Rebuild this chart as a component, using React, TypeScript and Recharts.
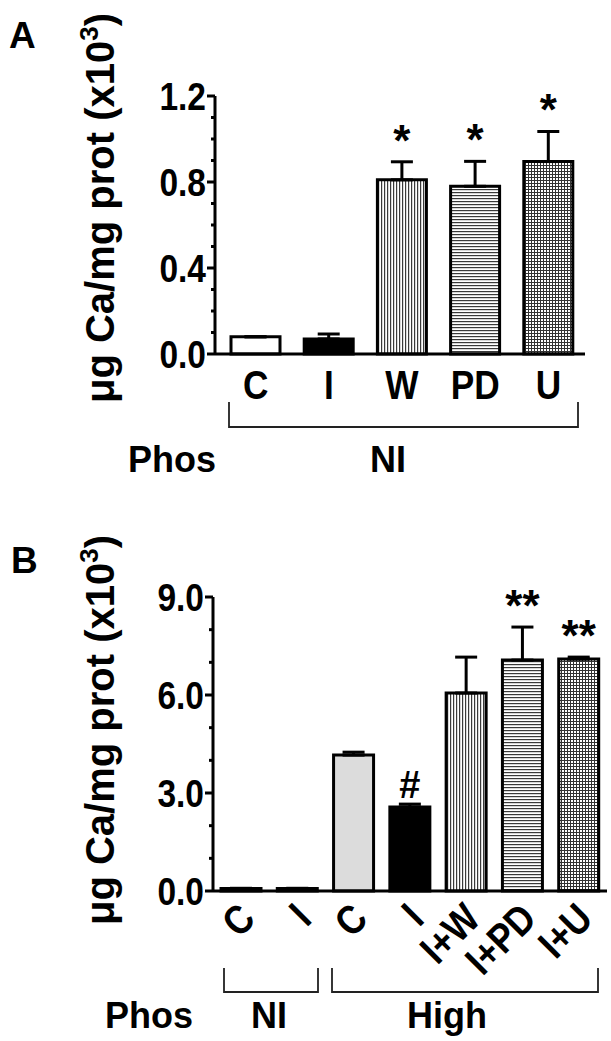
import React from 'react';
import { BarChart, Bar, XAxis, YAxis, Cell, ErrorBar, LabelList } from 'recharts';

// Panel A: normal phosphate
const catsA = ['C', 'I', 'W', 'PD', 'U'];
const valsA = [0.08, 0.07, 0.81, 0.78, 0.895];
const errsA = [0, 0.023, 0.084, 0.116, 0.14];
const marksA = ['', '', '*', '*', '*'];
const ticksA = [0, 0.1, 0.2, 0.3, 0.4, 0.5, 0.6, 0.7, 0.8, 0.9, 1.0, 1.1, 1.2];
const majorsA = [0, 0.4, 0.8, 1.2];
const tickLabelsA = ['0.0', '0.4', '0.8', '1.2'];

// Panel B: normal vs high phosphate
const catsB = ['C', 'I', 'C', 'I', 'I+W', 'I+PD', 'I+U'];
const phosB = ['NI', 'NI', 'High', 'High', 'High', 'High', 'High'];
const valsB = [0.08, 0.08, 4.16, 2.57, 6.06, 7.07, 7.1];
const errsB = [0, 0, 0.09, 0.09, 1.1, 1.01, 0.06];
const marksB = ['', '', '', '#', '', '**', '**'];
const ticksB = [0, 1, 2, 3, 4, 5, 6, 7, 8, 9];
const majorsB = [0, 3, 6, 9];
const tickLabelsB = ['0.0', '3.0', '6.0', '9.0'];

const FONT = '"Liberation Sans", Arial, sans-serif';
const NARROW = 0.86; // tick labels are set in a narrow face
const fillsA = ['#ffffff', '#000000', 'url(#vlines)', 'url(#hlines)', 'url(#grid)'];
const fillsB = ['#ffffff', '#000000', '#dcdcdc', '#000000', 'url(#vlines)', 'url(#hlines)', 'url(#grid)'];

const dataA = catsA.map((c, i) => ({ key: c, value: valsA[i], err: [0, errsA[i]], mark: marksA[i] }));
const dataB = catsB.map((c, i) => ({ key: phosB[i] + '-' + c, value: valsB[i], err: [0, errsB[i]], mark: marksB[i] }));

const Patterns = () => (
  <defs>
    <pattern id="vlines" width="3" height="3" patternUnits="userSpaceOnUse">
      <rect width="3" height="3" fill="#fff" />
      <rect x="0" y="0" width="1.2" height="3" fill="#3a3a3a" />
    </pattern>
    <pattern id="hlines" width="3" height="3" patternUnits="userSpaceOnUse">
      <rect width="3" height="3" fill="#fff" />
      <rect x="0" y="0" width="3" height="1.2" fill="#3a3a3a" />
    </pattern>
    <pattern id="grid" width="3" height="3" patternUnits="userSpaceOnUse">
      <rect width="3" height="3" fill="#fff" />
      <rect x="0" y="0" width="1" height="3" fill="#333" />
      <rect x="0" y="0" width="3" height="1" fill="#333" />
    </pattern>
  </defs>
);

const YTick = (props: any) => {
  const { x, y, payload, majors, labels } = props;
  const i = majors.indexOf(payload.value);
  const major = i >= 0;
  return (
    <g>
      <line x1={x - (major ? 8 : 4)} x2={x} y1={y} y2={y} stroke="#000" strokeWidth={3} />
      {major && (
        <text transform={`translate(${x - 9}, ${y}) scale(${NARROW}, 1)`} dy="0.36em" textAnchor="end"
          fontFamily={FONT} fontWeight="bold" fontSize={39} fill="#000">
          {labels[i]}
        </text>
      )}
    </g>
  );
};

const XTickA = (props: any) => {
  const { x, y, index } = props;
  return (
    <text transform={`translate(${x}, ${y + 45}) scale(${NARROW}, 1)`} textAnchor="middle"
      fontFamily={FONT} fontWeight="bold" fontSize={41} fill="#000">
      {catsA[index]}
    </text>
  );
};

const XTickB = (props: any) => {
  const { x, y, index } = props;
  return (
    <text transform={`translate(${x + 16}, ${y + 30}) rotate(-45) scale(${NARROW}, 1)`} textAnchor="end"
      fontFamily={FONT} fontWeight="bold" fontSize={41} fill="#000">
      {catsB[index]}
    </text>
  );
};

const makeMark = (vals: number[], errs: number[]) => (props: any) => {
  const { x, y, width, height, value, index } = props;
  if (!value) return null;
  const perUnit = height / vals[index];
  const capY = y - errs[index] * perUnit;
  const hash = String(value).includes('#');
  return (
    <text x={x + width / 2} y={capY - 6} textAnchor="middle" fontFamily={FONT} fontWeight="bold" fontSize={hash ? 38 : 44} fill="#000">
      {value}
    </text>
  );
};

const txt = { fontFamily: FONT, fontWeight: 'bold' as const, fill: '#000' };

const YLabel = ({ x, y }: { x: number; y: number }) => (
  <text x={x} y={y} transform={`rotate(-90, ${x}, ${y})`} textAnchor="middle" fontSize={40} {...txt}>
    μg Ca/mg prot (x10<tspan fontSize={26} dy={-16}>3</tspan><tspan dy={16}>)</tspan>
  </text>
);

const axisLine = { stroke: '#000', strokeWidth: 3 };

export default function App() {
  return (
    <div style={{ position: 'absolute', left: 0, top: 0, width: 611, height: 1041, background: '#fff', overflow: 'hidden' }}>
      {/* Panel A */}
      <div style={{ position: 'absolute', left: 0, top: 0 }}>
        <BarChart width={611} height={520} data={dataA} margin={{ top: 96, right: 26, bottom: 106, left: 135 }}>
          <Patterns />
          <XAxis dataKey="key" height={60} tickSize={0} tickMargin={0} tickLine={false} interval={0}
            padding={{ left: 4, right: 0 }} axisLine={axisLine} tick={<XTickA />} />
          <YAxis domain={[0, 1.2]} ticks={ticksA} interval={0} width={80} tickSize={0} tickMargin={0} tickLine={false}
            axisLine={axisLine} tick={<YTick majors={majorsA} labels={tickLabelsA} />} />
          <Bar dataKey="value" barSize={49} stroke="#000" strokeWidth={3} isAnimationActive={false}>
            {dataA.map((d, i) => (
              <Cell key={d.key} fill={fillsA[i]} />
            ))}
            <ErrorBar dataKey="err" width={11} stroke="#000" strokeWidth={3} direction="y" />
            <LabelList dataKey="mark" content={makeMark(valsA, errsA)} />
          </Bar>
        </BarChart>
      </div>

      {/* Panel B */}
      <div style={{ position: 'absolute', left: 0, top: 520 }}>
        <BarChart width={611} height={521} data={dataB} margin={{ top: 77, right: 4, bottom: 90, left: 133 }}>
          <Patterns />
          <XAxis dataKey="key" height={60} tickSize={0} tickMargin={0} tickLine={false} interval={0}
            padding={{ left: 0, right: 0 }} axisLine={axisLine} tick={<XTickB />} />
          <YAxis domain={[0, 9]} ticks={ticksB} interval={0} width={80} tickSize={0} tickMargin={0} tickLine={false}
            axisLine={axisLine} tick={<YTick majors={majorsB} labels={tickLabelsB} />} />
          <Bar dataKey="value" barSize={40} stroke="#000" strokeWidth={3} isAnimationActive={false}>
            {dataB.map((d, i) => (
              <Cell key={d.key} fill={fillsB[i]} />
            ))}
            <ErrorBar dataKey="err" width={11} stroke="#000" strokeWidth={3} direction="y" />
            <LabelList dataKey="mark" content={makeMark(valsB, errsB)} />
          </Bar>
        </BarChart>
      </div>

      {/* panel letters, axis titles and group brackets */}
      <svg width={611} height={1041} style={{ position: 'absolute', left: 0, top: 0, pointerEvents: 'none' }}>
        <text x={9} y={48} fontSize={37} {...txt}>A</text>
        <YLabel x={114} y={208} />
        <path d="M229 402 V427 H578 V402" fill="none" stroke="#222" strokeWidth={1.8} />
        <text x={172} y={472} textAnchor="middle" fontSize={36} {...txt}>Phos</text>
        <text x={388} y={472} textAnchor="middle" fontSize={36} {...txt}>NI</text>

        <text x={11} y={573} fontSize={37} {...txt}>B</text>
        <YLabel x={114} y={730} />
        <path d="M224 968 V992 H318 V968" fill="none" stroke="#222" strokeWidth={1.8} />
        <path d="M332 968 V992 H598 V968" fill="none" stroke="#222" strokeWidth={1.8} />
        <text x={149} y={1028} textAnchor="middle" fontSize={36} {...txt}>Phos</text>
        <text x={269} y={1028} textAnchor="middle" fontSize={36} {...txt}>NI</text>
        <text x={447} y={1028} textAnchor="middle" fontSize={36} {...txt}>High</text>
      </svg>
    </div>
  );
}
